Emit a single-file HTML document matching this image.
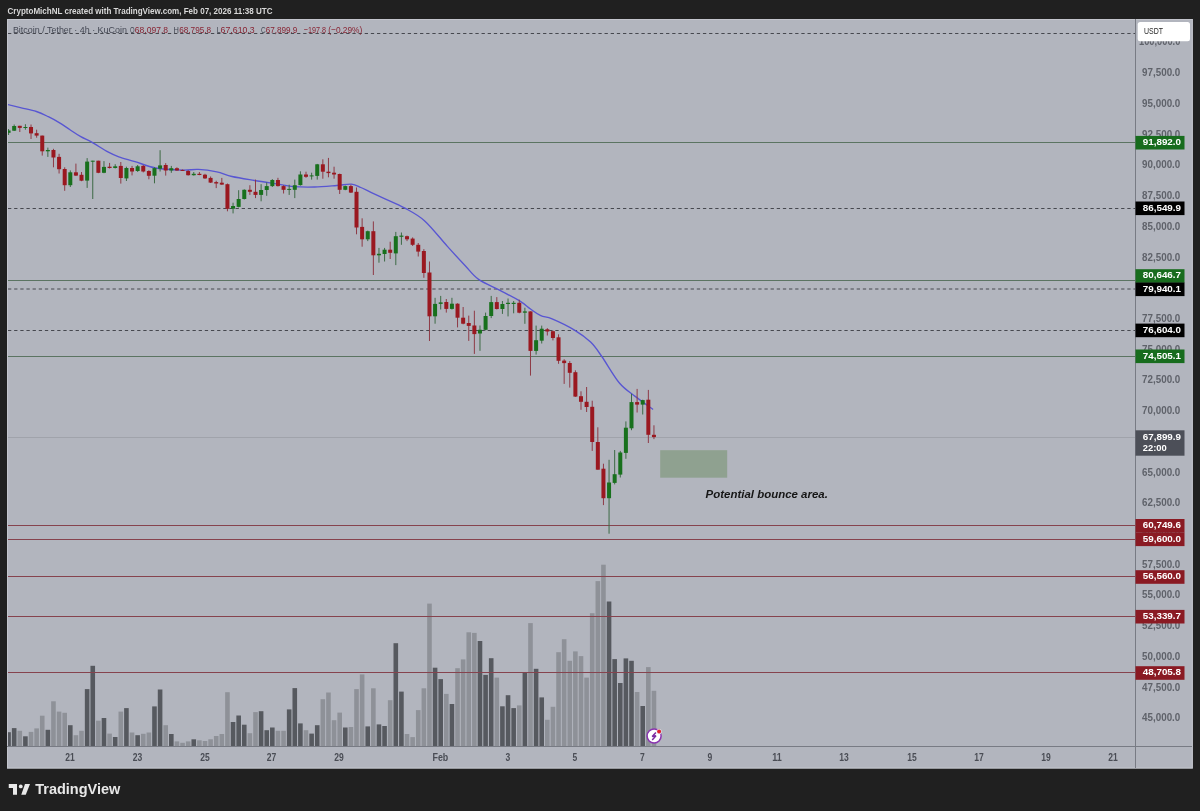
<!DOCTYPE html><html><head><meta charset="utf-8"><style>html,body{margin:0;padding:0;background:#202020;width:1200px;height:811px;overflow:hidden}svg{display:block;will-change:transform}text{font-family:"Liberation Sans",sans-serif}</style></head><body>
<svg width="1200" height="811" viewBox="0 0 1200 811">
<rect x="0" y="0" width="1200" height="811" fill="#202020"/>
<text x="7.5" y="14.3" font-size="9.8" font-weight="bold" fill="#d8d8d8" textLength="265" lengthAdjust="spacingAndGlyphs">CryptoMichNL created with TradingView.com, Feb 07, 2026 11:38 UTC</text>
<rect x="7" y="19" width="1185.8" height="749.5" fill="#b2b5be"/>
<rect x="7.5" y="19.5" width="1184.8" height="748.5" fill="none" stroke="#c3c5cc" stroke-width="1"/>
<defs><clipPath id="cp"><rect x="8" y="20" width="1127" height="726"/></clipPath></defs><g clip-path="url(#cp)">
<rect x="6.27" y="732.2" width="4.6" height="13.8" fill="#56595f"/>
<rect x="11.88" y="728.1" width="4.6" height="17.9" fill="#56595f"/>
<rect x="17.49" y="730.8" width="4.6" height="15.2" fill="#8e9198"/>
<rect x="23.10" y="736.3" width="4.6" height="9.7" fill="#56595f"/>
<rect x="28.72" y="731.9" width="4.6" height="14.1" fill="#8e9198"/>
<rect x="34.33" y="728.4" width="4.6" height="17.6" fill="#8e9198"/>
<rect x="39.94" y="715.7" width="4.6" height="30.3" fill="#8e9198"/>
<rect x="45.55" y="729.8" width="4.6" height="16.2" fill="#56595f"/>
<rect x="51.16" y="701.3" width="4.6" height="44.7" fill="#8e9198"/>
<rect x="56.78" y="711.6" width="4.6" height="34.4" fill="#8e9198"/>
<rect x="62.39" y="712.8" width="4.6" height="33.2" fill="#8e9198"/>
<rect x="68.00" y="725.2" width="4.6" height="20.8" fill="#56595f"/>
<rect x="73.61" y="735.2" width="4.6" height="10.8" fill="#8e9198"/>
<rect x="79.22" y="730.8" width="4.6" height="15.2" fill="#8e9198"/>
<rect x="84.84" y="689.1" width="4.6" height="56.9" fill="#56595f"/>
<rect x="90.45" y="665.8" width="4.6" height="80.2" fill="#56595f"/>
<rect x="96.06" y="720.7" width="4.6" height="25.3" fill="#8e9198"/>
<rect x="101.67" y="718.0" width="4.6" height="28.0" fill="#56595f"/>
<rect x="107.28" y="733.6" width="4.6" height="12.4" fill="#8e9198"/>
<rect x="112.90" y="737.0" width="4.6" height="9.0" fill="#56595f"/>
<rect x="118.51" y="711.6" width="4.6" height="34.4" fill="#8e9198"/>
<rect x="124.12" y="708.1" width="4.6" height="37.9" fill="#56595f"/>
<rect x="129.73" y="732.5" width="4.6" height="13.5" fill="#8e9198"/>
<rect x="135.34" y="735.2" width="4.6" height="10.8" fill="#56595f"/>
<rect x="140.96" y="733.8" width="4.6" height="12.2" fill="#8e9198"/>
<rect x="146.57" y="732.5" width="4.6" height="13.5" fill="#8e9198"/>
<rect x="152.18" y="706.4" width="4.6" height="39.6" fill="#56595f"/>
<rect x="157.79" y="689.5" width="4.6" height="56.5" fill="#56595f"/>
<rect x="163.40" y="725.2" width="4.6" height="20.8" fill="#8e9198"/>
<rect x="169.02" y="734.0" width="4.6" height="12.0" fill="#56595f"/>
<rect x="174.63" y="741.4" width="4.6" height="4.6" fill="#8e9198"/>
<rect x="180.24" y="742.8" width="4.6" height="3.2" fill="#8e9198"/>
<rect x="185.85" y="741.4" width="4.6" height="4.6" fill="#8e9198"/>
<rect x="191.46" y="739.3" width="4.6" height="6.7" fill="#56595f"/>
<rect x="197.08" y="740.3" width="4.6" height="5.7" fill="#8e9198"/>
<rect x="202.69" y="741.0" width="4.6" height="5.0" fill="#8e9198"/>
<rect x="208.30" y="739.3" width="4.6" height="6.7" fill="#8e9198"/>
<rect x="213.91" y="736.0" width="4.6" height="10.0" fill="#8e9198"/>
<rect x="219.52" y="734.0" width="4.6" height="12.0" fill="#8e9198"/>
<rect x="225.14" y="692.2" width="4.6" height="53.8" fill="#8e9198"/>
<rect x="230.75" y="722.0" width="4.6" height="24.0" fill="#56595f"/>
<rect x="236.36" y="715.5" width="4.6" height="30.5" fill="#56595f"/>
<rect x="241.97" y="724.7" width="4.6" height="21.3" fill="#56595f"/>
<rect x="247.58" y="733.2" width="4.6" height="12.8" fill="#8e9198"/>
<rect x="253.20" y="712.1" width="4.6" height="33.9" fill="#8e9198"/>
<rect x="258.81" y="711.2" width="4.6" height="34.8" fill="#56595f"/>
<rect x="264.42" y="730.2" width="4.6" height="15.8" fill="#56595f"/>
<rect x="270.03" y="727.5" width="4.6" height="18.5" fill="#56595f"/>
<rect x="275.64" y="730.8" width="4.6" height="15.2" fill="#8e9198"/>
<rect x="281.26" y="730.8" width="4.6" height="15.2" fill="#8e9198"/>
<rect x="286.87" y="709.4" width="4.6" height="36.6" fill="#56595f"/>
<rect x="292.48" y="688.1" width="4.6" height="57.9" fill="#56595f"/>
<rect x="298.09" y="723.4" width="4.6" height="22.6" fill="#56595f"/>
<rect x="303.70" y="730.2" width="4.6" height="15.8" fill="#8e9198"/>
<rect x="309.32" y="733.6" width="4.6" height="12.4" fill="#56595f"/>
<rect x="314.93" y="725.2" width="4.6" height="20.8" fill="#56595f"/>
<rect x="320.54" y="699.2" width="4.6" height="46.8" fill="#8e9198"/>
<rect x="326.15" y="692.5" width="4.6" height="53.5" fill="#8e9198"/>
<rect x="331.76" y="720.2" width="4.6" height="25.8" fill="#8e9198"/>
<rect x="337.38" y="712.6" width="4.6" height="33.4" fill="#8e9198"/>
<rect x="342.99" y="727.5" width="4.6" height="18.5" fill="#56595f"/>
<rect x="348.60" y="727.0" width="4.6" height="19.0" fill="#8e9198"/>
<rect x="354.21" y="689.1" width="4.6" height="56.9" fill="#8e9198"/>
<rect x="359.82" y="674.4" width="4.6" height="71.6" fill="#8e9198"/>
<rect x="365.44" y="726.4" width="4.6" height="19.6" fill="#56595f"/>
<rect x="371.05" y="688.3" width="4.6" height="57.7" fill="#8e9198"/>
<rect x="376.66" y="724.4" width="4.6" height="21.6" fill="#56595f"/>
<rect x="382.27" y="726.0" width="4.6" height="20.0" fill="#56595f"/>
<rect x="387.88" y="700.2" width="4.6" height="45.8" fill="#8e9198"/>
<rect x="393.50" y="643.2" width="4.6" height="102.8" fill="#56595f"/>
<rect x="399.11" y="691.6" width="4.6" height="54.4" fill="#56595f"/>
<rect x="404.72" y="734.0" width="4.6" height="12.0" fill="#8e9198"/>
<rect x="410.33" y="737.1" width="4.6" height="8.9" fill="#8e9198"/>
<rect x="415.94" y="710.1" width="4.6" height="35.9" fill="#8e9198"/>
<rect x="421.56" y="688.3" width="4.6" height="57.7" fill="#8e9198"/>
<rect x="427.17" y="603.6" width="4.6" height="142.4" fill="#8e9198"/>
<rect x="432.78" y="667.7" width="4.6" height="78.3" fill="#56595f"/>
<rect x="438.39" y="679.1" width="4.6" height="66.9" fill="#56595f"/>
<rect x="444.00" y="693.9" width="4.6" height="52.1" fill="#8e9198"/>
<rect x="449.62" y="704.0" width="4.6" height="42.0" fill="#56595f"/>
<rect x="455.23" y="668.2" width="4.6" height="77.8" fill="#8e9198"/>
<rect x="460.84" y="659.4" width="4.6" height="86.6" fill="#8e9198"/>
<rect x="466.45" y="632.3" width="4.6" height="113.7" fill="#8e9198"/>
<rect x="472.06" y="632.9" width="4.6" height="113.1" fill="#8e9198"/>
<rect x="477.68" y="641.0" width="4.6" height="105.0" fill="#56595f"/>
<rect x="483.29" y="674.9" width="4.6" height="71.1" fill="#56595f"/>
<rect x="488.90" y="658.2" width="4.6" height="87.8" fill="#56595f"/>
<rect x="494.51" y="677.6" width="4.6" height="68.4" fill="#8e9198"/>
<rect x="500.12" y="706.3" width="4.6" height="39.7" fill="#56595f"/>
<rect x="505.74" y="695.2" width="4.6" height="50.8" fill="#56595f"/>
<rect x="511.35" y="708.1" width="4.6" height="37.9" fill="#56595f"/>
<rect x="516.96" y="705.4" width="4.6" height="40.6" fill="#8e9198"/>
<rect x="522.57" y="672.1" width="4.6" height="73.9" fill="#56595f"/>
<rect x="528.18" y="623.1" width="4.6" height="122.9" fill="#8e9198"/>
<rect x="533.80" y="668.8" width="4.6" height="77.2" fill="#56595f"/>
<rect x="539.41" y="697.4" width="4.6" height="48.6" fill="#56595f"/>
<rect x="545.02" y="719.8" width="4.6" height="26.2" fill="#8e9198"/>
<rect x="550.63" y="706.8" width="4.6" height="39.2" fill="#8e9198"/>
<rect x="556.24" y="652.2" width="4.6" height="93.8" fill="#8e9198"/>
<rect x="561.86" y="639.2" width="4.6" height="106.8" fill="#8e9198"/>
<rect x="567.47" y="660.8" width="4.6" height="85.2" fill="#8e9198"/>
<rect x="573.08" y="651.4" width="4.6" height="94.6" fill="#8e9198"/>
<rect x="578.69" y="656.1" width="4.6" height="89.9" fill="#8e9198"/>
<rect x="584.30" y="677.6" width="4.6" height="68.4" fill="#8e9198"/>
<rect x="589.92" y="613.2" width="4.6" height="132.8" fill="#8e9198"/>
<rect x="595.53" y="581.1" width="4.6" height="164.9" fill="#8e9198"/>
<rect x="601.14" y="564.7" width="4.6" height="181.3" fill="#8e9198"/>
<rect x="606.75" y="601.5" width="4.6" height="144.5" fill="#56595f"/>
<rect x="612.36" y="659.1" width="4.6" height="86.9" fill="#56595f"/>
<rect x="617.98" y="683.0" width="4.6" height="63.0" fill="#56595f"/>
<rect x="623.59" y="658.4" width="4.6" height="87.6" fill="#56595f"/>
<rect x="629.20" y="660.8" width="4.6" height="85.2" fill="#56595f"/>
<rect x="634.81" y="692.0" width="4.6" height="54.0" fill="#8e9198"/>
<rect x="640.42" y="706.0" width="4.6" height="40.0" fill="#56595f"/>
<rect x="646.04" y="667.1" width="4.6" height="78.9" fill="#8e9198"/>
<rect x="651.65" y="690.8" width="4.6" height="55.2" fill="#8e9198"/>
<line x1="8" y1="33.5" x2="1135.5" y2="33.5" stroke="#46484f" stroke-width="1" stroke-dasharray="3.3 2.85"/>
<line x1="8" y1="142.5" x2="1135.5" y2="142.5" stroke="#5b7462" stroke-width="1"/>
<line x1="8" y1="280.5" x2="1135.5" y2="280.5" stroke="#5b7462" stroke-width="1"/>
<line x1="8" y1="356.5" x2="1135.5" y2="356.5" stroke="#5b7462" stroke-width="1"/>
<line x1="8" y1="208.5" x2="1135.5" y2="208.5" stroke="#46484f" stroke-width="1" stroke-dasharray="3.3 2.85"/>
<line x1="8" y1="289.0" x2="1135.5" y2="289.0" stroke="#46484f" stroke-width="1" stroke-dasharray="3.3 2.85"/>
<line x1="8" y1="330.5" x2="1135.5" y2="330.5" stroke="#46484f" stroke-width="1" stroke-dasharray="3.3 2.85"/>
<line x1="8" y1="525.5" x2="1135.5" y2="525.5" stroke="#86434e" stroke-width="1"/>
<line x1="8" y1="539.5" x2="1135.5" y2="539.5" stroke="#86434e" stroke-width="1"/>
<line x1="8" y1="576.5" x2="1135.5" y2="576.5" stroke="#86434e" stroke-width="1"/>
<line x1="8" y1="616.5" x2="1135.5" y2="616.5" stroke="#86434e" stroke-width="1"/>
<line x1="8" y1="672.5" x2="1135.5" y2="672.5" stroke="#86434e" stroke-width="1"/>
<line x1="8" y1="437.5" x2="1135.5" y2="437.5" stroke="#a0a3ab" stroke-width="1"/>
<path d="M7,104.4 C9.38,104.97 16.40,106.62 21.3,107.8 C26.20,108.98 31.90,110.02 36.4,111.5 C40.90,112.98 44.50,114.85 48.3,116.7 C52.10,118.55 55.58,120.43 59.2,122.6 C62.82,124.77 66.40,127.35 70,129.7 C73.60,132.05 77.18,134.63 80.8,136.7 C84.42,138.77 87.18,139.57 91.7,142.1 C96.22,144.63 103.38,149.45 107.9,151.9 C112.42,154.35 114.28,155.18 118.8,156.8 C123.32,158.42 128.85,159.73 135,161.6 C141.15,163.47 147.78,166.58 155.7,168 C163.62,169.42 175.40,169.87 182.5,170.1 C189.60,170.33 192.58,169.10 198.3,169.4 C204.02,169.70 211.18,170.72 216.8,171.9 C222.42,173.08 225.72,175.07 232,176.5 C238.28,177.93 246.58,179.18 254.5,180.5 C262.42,181.82 273.02,183.38 279.5,184.4 C285.98,185.42 287.57,186.17 293.4,186.6 C299.23,187.03 307.28,187.18 314.5,187 C321.72,186.82 330.53,185.97 336.7,185.5 C342.87,185.03 347.48,183.87 351.5,184.2 C355.52,184.53 357.57,186.15 360.8,187.5 C364.03,188.85 366.87,190.42 370.9,192.3 C374.93,194.18 379.33,196.17 385,198.8 C390.67,201.43 398.28,204.42 404.9,208.1 C411.52,211.78 417.62,214.52 424.7,220.9 C431.78,227.28 440.68,238.97 447.4,246.4 C454.12,253.83 459.80,260.00 465,265.5 C470.20,271.00 472.77,275.25 478.6,279.4 C484.43,283.55 493.10,286.77 500,290.4 C506.90,294.03 514.92,298.10 520,301.2 C525.08,304.30 527.03,306.58 530.5,309 C533.97,311.42 537.20,314.05 540.8,315.7 C544.40,317.35 546.48,316.50 552.1,318.9 C557.72,321.30 568.08,326.23 574.5,330.1 C580.92,333.97 586.05,337.70 590.6,342.1 C595.15,346.50 597.00,349.68 601.8,356.5 C606.60,363.32 613.78,376.32 619.4,383 C625.02,389.68 629.88,392.18 635.5,396.6 C641.12,401.02 650.17,407.35 653.1,409.5" fill="none" stroke="#5856d2" stroke-width="1.35"/>
<rect x="8.07" y="129.0" width="1" height="6.0" fill="#3d6a45"/>
<rect x="6.57" y="130.5" width="4" height="2.3" fill="#18701d"/>
<rect x="13.68" y="124.5" width="1" height="6.5" fill="#3d6a45"/>
<rect x="12.18" y="126.0" width="4" height="4.7" fill="#18701d"/>
<rect x="19.29" y="125.8" width="1" height="6.2" fill="#8e3a46"/>
<rect x="17.79" y="125.8" width="4" height="2.1" fill="#9a1820"/>
<rect x="24.90" y="124.2" width="1" height="5.5" fill="#3d6a45"/>
<rect x="23.40" y="127.0" width="4" height="1.0" fill="#18701d"/>
<rect x="30.52" y="124.5" width="1" height="14.5" fill="#8e3a46"/>
<rect x="29.02" y="127.0" width="4" height="6.4" fill="#9a1820"/>
<rect x="36.13" y="129.7" width="1" height="8.0" fill="#8e3a46"/>
<rect x="34.63" y="133.2" width="4" height="2.4" fill="#9a1820"/>
<rect x="41.74" y="135.6" width="1" height="20.0" fill="#8e3a46"/>
<rect x="40.24" y="135.6" width="4" height="15.7" fill="#9a1820"/>
<rect x="47.35" y="147.6" width="1" height="9.3" fill="#3d6a45"/>
<rect x="45.85" y="150.0" width="4" height="1.3" fill="#18701d"/>
<rect x="52.96" y="148.8" width="1" height="18.5" fill="#8e3a46"/>
<rect x="51.46" y="150.0" width="4" height="7.5" fill="#9a1820"/>
<rect x="58.58" y="153.8" width="1" height="19.7" fill="#8e3a46"/>
<rect x="57.08" y="156.9" width="4" height="12.3" fill="#9a1820"/>
<rect x="64.19" y="167.3" width="1" height="23.5" fill="#8e3a46"/>
<rect x="62.69" y="169.0" width="4" height="16.2" fill="#9a1820"/>
<rect x="69.80" y="170.4" width="1" height="16.6" fill="#3d6a45"/>
<rect x="68.30" y="172.3" width="4" height="12.9" fill="#18701d"/>
<rect x="75.41" y="163.6" width="1" height="12.4" fill="#8e3a46"/>
<rect x="73.91" y="172.3" width="4" height="3.3" fill="#9a1820"/>
<rect x="81.02" y="172.0" width="1" height="9.2" fill="#8e3a46"/>
<rect x="79.52" y="174.8" width="4" height="5.9" fill="#9a1820"/>
<rect x="86.64" y="158.1" width="1" height="29.8" fill="#3d6a45"/>
<rect x="85.14" y="161.6" width="4" height="19.0" fill="#18701d"/>
<rect x="92.25" y="160.7" width="1" height="38.3" fill="#3d6a45"/>
<rect x="90.75" y="160.7" width="4" height="1.0" fill="#18701d"/>
<rect x="97.86" y="160.7" width="1" height="12.5" fill="#8e3a46"/>
<rect x="96.36" y="160.7" width="4" height="12.1" fill="#9a1820"/>
<rect x="103.47" y="161.1" width="1" height="12.1" fill="#3d6a45"/>
<rect x="101.97" y="166.9" width="4" height="5.9" fill="#18701d"/>
<rect x="109.08" y="162.9" width="1" height="5.6" fill="#8e3a46"/>
<rect x="107.58" y="166.7" width="4" height="1.3" fill="#9a1820"/>
<rect x="114.70" y="164.2" width="1" height="4.3" fill="#3d6a45"/>
<rect x="113.20" y="166.3" width="4" height="1.7" fill="#18701d"/>
<rect x="120.31" y="162.0" width="1" height="21.6" fill="#8e3a46"/>
<rect x="118.81" y="165.9" width="4" height="12.1" fill="#9a1820"/>
<rect x="125.92" y="166.7" width="1" height="14.3" fill="#3d6a45"/>
<rect x="124.42" y="168.0" width="4" height="10.4" fill="#18701d"/>
<rect x="131.53" y="165.9" width="1" height="9.5" fill="#8e3a46"/>
<rect x="130.03" y="168.0" width="4" height="3.5" fill="#9a1820"/>
<rect x="137.14" y="165.0" width="1" height="6.9" fill="#3d6a45"/>
<rect x="135.64" y="166.3" width="4" height="4.7" fill="#18701d"/>
<rect x="142.76" y="165.0" width="1" height="7.4" fill="#8e3a46"/>
<rect x="141.26" y="165.9" width="4" height="5.6" fill="#9a1820"/>
<rect x="148.37" y="170.2" width="1" height="9.1" fill="#8e3a46"/>
<rect x="146.87" y="171.0" width="4" height="4.8" fill="#9a1820"/>
<rect x="153.98" y="167.2" width="1" height="16.1" fill="#3d6a45"/>
<rect x="152.48" y="168.1" width="4" height="7.6" fill="#18701d"/>
<rect x="159.59" y="150.2" width="1" height="21.3" fill="#3d6a45"/>
<rect x="158.09" y="165.4" width="4" height="3.3" fill="#18701d"/>
<rect x="165.20" y="163.1" width="1" height="12.5" fill="#8e3a46"/>
<rect x="163.70" y="165.0" width="4" height="5.5" fill="#9a1820"/>
<rect x="170.82" y="165.9" width="1" height="6.9" fill="#3d6a45"/>
<rect x="169.32" y="168.2" width="4" height="2.3" fill="#18701d"/>
<rect x="176.43" y="167.3" width="1" height="3.6" fill="#8e3a46"/>
<rect x="174.93" y="168.2" width="4" height="2.3" fill="#9a1820"/>
<rect x="182.04" y="169.5" width="1" height="1.5" fill="#8e3a46"/>
<rect x="180.54" y="169.9" width="4" height="1.0" fill="#9a1820"/>
<rect x="187.65" y="170.0" width="1" height="5.6" fill="#8e3a46"/>
<rect x="186.15" y="171.0" width="4" height="4.2" fill="#9a1820"/>
<rect x="193.26" y="172.0" width="1" height="3.6" fill="#3d6a45"/>
<rect x="191.76" y="173.8" width="4" height="1.4" fill="#18701d"/>
<rect x="198.88" y="172.0" width="1" height="3.2" fill="#8e3a46"/>
<rect x="197.38" y="173.8" width="4" height="1.2" fill="#9a1820"/>
<rect x="204.49" y="173.8" width="1" height="5.1" fill="#8e3a46"/>
<rect x="202.99" y="174.7" width="4" height="3.7" fill="#9a1820"/>
<rect x="210.10" y="176.5" width="1" height="6.5" fill="#8e3a46"/>
<rect x="208.60" y="177.9" width="4" height="4.7" fill="#9a1820"/>
<rect x="215.71" y="180.7" width="1" height="7.4" fill="#8e3a46"/>
<rect x="214.21" y="182.1" width="4" height="1.4" fill="#9a1820"/>
<rect x="221.32" y="177.9" width="1" height="7.0" fill="#8e3a46"/>
<rect x="219.82" y="182.7" width="4" height="1.9" fill="#9a1820"/>
<rect x="226.94" y="183.5" width="1" height="27.8" fill="#8e3a46"/>
<rect x="225.44" y="184.2" width="4" height="24.6" fill="#9a1820"/>
<rect x="232.55" y="202.7" width="1" height="10.7" fill="#3d6a45"/>
<rect x="231.05" y="206.0" width="4" height="2.7" fill="#18701d"/>
<rect x="238.16" y="190.2" width="1" height="17.2" fill="#3d6a45"/>
<rect x="236.66" y="199.0" width="4" height="7.9" fill="#18701d"/>
<rect x="243.77" y="189.3" width="1" height="10.2" fill="#3d6a45"/>
<rect x="242.27" y="189.8" width="4" height="9.2" fill="#18701d"/>
<rect x="249.38" y="185.2" width="1" height="9.7" fill="#8e3a46"/>
<rect x="247.88" y="189.8" width="4" height="2.0" fill="#9a1820"/>
<rect x="255.00" y="179.6" width="1" height="18.5" fill="#8e3a46"/>
<rect x="253.50" y="191.8" width="4" height="3.1" fill="#9a1820"/>
<rect x="260.61" y="184.2" width="1" height="17.1" fill="#3d6a45"/>
<rect x="259.11" y="190.0" width="4" height="4.9" fill="#18701d"/>
<rect x="266.22" y="182.4" width="1" height="13.4" fill="#3d6a45"/>
<rect x="264.72" y="186.1" width="4" height="3.9" fill="#18701d"/>
<rect x="271.83" y="179.1" width="1" height="7.9" fill="#3d6a45"/>
<rect x="270.33" y="180.0" width="4" height="6.1" fill="#18701d"/>
<rect x="277.44" y="177.8" width="1" height="8.7" fill="#8e3a46"/>
<rect x="275.94" y="180.0" width="4" height="6.1" fill="#9a1820"/>
<rect x="283.06" y="185.2" width="1" height="8.3" fill="#8e3a46"/>
<rect x="281.56" y="186.1" width="4" height="3.7" fill="#9a1820"/>
<rect x="288.67" y="184.7" width="1" height="10.2" fill="#3d6a45"/>
<rect x="287.17" y="188.9" width="4" height="1.0" fill="#18701d"/>
<rect x="294.28" y="179.6" width="1" height="18.5" fill="#3d6a45"/>
<rect x="292.78" y="185.2" width="4" height="4.6" fill="#18701d"/>
<rect x="299.89" y="171.3" width="1" height="14.3" fill="#3d6a45"/>
<rect x="298.39" y="174.5" width="4" height="10.6" fill="#18701d"/>
<rect x="305.50" y="171.7" width="1" height="6.1" fill="#8e3a46"/>
<rect x="304.00" y="174.5" width="4" height="2.3" fill="#9a1820"/>
<rect x="311.12" y="172.7" width="1" height="6.9" fill="#3d6a45"/>
<rect x="309.62" y="175.4" width="4" height="1.0" fill="#18701d"/>
<rect x="316.73" y="163.9" width="1" height="15.7" fill="#3d6a45"/>
<rect x="315.23" y="164.3" width="4" height="11.6" fill="#18701d"/>
<rect x="322.34" y="159.3" width="1" height="19.4" fill="#8e3a46"/>
<rect x="320.84" y="164.3" width="4" height="7.4" fill="#9a1820"/>
<rect x="327.95" y="157.9" width="1" height="19.4" fill="#8e3a46"/>
<rect x="326.45" y="171.7" width="4" height="1.4" fill="#9a1820"/>
<rect x="333.56" y="166.7" width="1" height="12.0" fill="#8e3a46"/>
<rect x="332.06" y="172.7" width="4" height="1.8" fill="#9a1820"/>
<rect x="339.18" y="173.6" width="1" height="20.4" fill="#8e3a46"/>
<rect x="337.68" y="174.0" width="4" height="15.8" fill="#9a1820"/>
<rect x="344.79" y="185.6" width="1" height="4.6" fill="#3d6a45"/>
<rect x="343.29" y="186.1" width="4" height="3.7" fill="#18701d"/>
<rect x="350.40" y="184.7" width="1" height="8.3" fill="#8e3a46"/>
<rect x="348.90" y="186.1" width="4" height="6.5" fill="#9a1820"/>
<rect x="356.01" y="187.5" width="1" height="46.8" fill="#8e3a46"/>
<rect x="354.51" y="191.8" width="4" height="35.7" fill="#9a1820"/>
<rect x="361.62" y="218.3" width="1" height="28.4" fill="#8e3a46"/>
<rect x="360.12" y="226.9" width="4" height="12.4" fill="#9a1820"/>
<rect x="367.24" y="230.6" width="1" height="10.5" fill="#3d6a45"/>
<rect x="365.74" y="231.2" width="4" height="8.1" fill="#18701d"/>
<rect x="372.85" y="221.4" width="1" height="53.6" fill="#8e3a46"/>
<rect x="371.35" y="231.2" width="4" height="24.1" fill="#9a1820"/>
<rect x="378.46" y="247.9" width="1" height="14.8" fill="#3d6a45"/>
<rect x="376.96" y="253.8" width="4" height="1.5" fill="#18701d"/>
<rect x="384.07" y="247.9" width="1" height="13.6" fill="#3d6a45"/>
<rect x="382.57" y="249.7" width="4" height="4.3" fill="#18701d"/>
<rect x="389.68" y="241.7" width="1" height="17.3" fill="#8e3a46"/>
<rect x="388.18" y="249.7" width="4" height="3.1" fill="#9a1820"/>
<rect x="395.30" y="231.9" width="1" height="33.2" fill="#3d6a45"/>
<rect x="393.80" y="236.2" width="4" height="17.2" fill="#18701d"/>
<rect x="400.91" y="232.5" width="1" height="12.3" fill="#3d6a45"/>
<rect x="399.41" y="235.6" width="4" height="1.2" fill="#18701d"/>
<rect x="406.52" y="235.6" width="1" height="5.5" fill="#8e3a46"/>
<rect x="405.02" y="236.2" width="4" height="3.1" fill="#9a1820"/>
<rect x="412.13" y="237.4" width="1" height="8.6" fill="#8e3a46"/>
<rect x="410.63" y="238.6" width="4" height="6.2" fill="#9a1820"/>
<rect x="417.74" y="243.0" width="1" height="13.5" fill="#8e3a46"/>
<rect x="416.24" y="244.8" width="4" height="6.8" fill="#9a1820"/>
<rect x="423.36" y="249.1" width="1" height="28.7" fill="#8e3a46"/>
<rect x="421.86" y="251.0" width="4" height="22.0" fill="#9a1820"/>
<rect x="428.97" y="261.5" width="1" height="79.5" fill="#8e3a46"/>
<rect x="427.47" y="272.5" width="4" height="43.8" fill="#9a1820"/>
<rect x="434.58" y="297.8" width="1" height="25.9" fill="#3d6a45"/>
<rect x="433.08" y="303.9" width="4" height="12.4" fill="#18701d"/>
<rect x="440.19" y="295.9" width="1" height="13.6" fill="#3d6a45"/>
<rect x="438.69" y="302.4" width="4" height="1.5" fill="#18701d"/>
<rect x="445.80" y="299.0" width="1" height="13.6" fill="#8e3a46"/>
<rect x="444.30" y="302.0" width="4" height="6.9" fill="#9a1820"/>
<rect x="451.42" y="297.8" width="1" height="11.7" fill="#3d6a45"/>
<rect x="449.92" y="303.7" width="4" height="5.2" fill="#18701d"/>
<rect x="457.03" y="303.3" width="1" height="24.1" fill="#8e3a46"/>
<rect x="455.53" y="303.7" width="4" height="14.0" fill="#9a1820"/>
<rect x="462.64" y="307.0" width="1" height="17.3" fill="#8e3a46"/>
<rect x="461.14" y="317.7" width="4" height="6.0" fill="#9a1820"/>
<rect x="468.25" y="315.6" width="1" height="25.3" fill="#8e3a46"/>
<rect x="466.75" y="323.0" width="4" height="2.9" fill="#9a1820"/>
<rect x="473.86" y="310.7" width="1" height="43.2" fill="#8e3a46"/>
<rect x="472.36" y="325.5" width="4" height="8.6" fill="#9a1820"/>
<rect x="479.48" y="325.5" width="1" height="25.3" fill="#3d6a45"/>
<rect x="477.98" y="329.8" width="4" height="3.7" fill="#18701d"/>
<rect x="485.09" y="312.6" width="1" height="17.8" fill="#3d6a45"/>
<rect x="483.59" y="316.0" width="4" height="13.8" fill="#18701d"/>
<rect x="490.70" y="295.9" width="1" height="22.2" fill="#3d6a45"/>
<rect x="489.20" y="302.1" width="4" height="13.9" fill="#18701d"/>
<rect x="496.31" y="297.1" width="1" height="12.4" fill="#8e3a46"/>
<rect x="494.81" y="302.1" width="4" height="6.9" fill="#9a1820"/>
<rect x="501.92" y="301.0" width="1" height="12.9" fill="#3d6a45"/>
<rect x="500.42" y="304.0" width="4" height="5.0" fill="#18701d"/>
<rect x="507.54" y="298.5" width="1" height="17.9" fill="#3d6a45"/>
<rect x="506.04" y="302.8" width="4" height="1.2" fill="#18701d"/>
<rect x="513.15" y="301.0" width="1" height="12.3" fill="#3d6a45"/>
<rect x="511.65" y="302.8" width="4" height="1.2" fill="#18701d"/>
<rect x="518.76" y="299.7" width="1" height="13.6" fill="#8e3a46"/>
<rect x="517.26" y="302.8" width="4" height="9.9" fill="#9a1820"/>
<rect x="524.37" y="307.7" width="1" height="16.1" fill="#3d6a45"/>
<rect x="522.87" y="311.4" width="4" height="1.3" fill="#18701d"/>
<rect x="529.98" y="311.4" width="1" height="64.2" fill="#8e3a46"/>
<rect x="528.48" y="311.4" width="4" height="39.5" fill="#9a1820"/>
<rect x="535.60" y="325.6" width="1" height="29.0" fill="#3d6a45"/>
<rect x="534.10" y="340.2" width="4" height="10.7" fill="#18701d"/>
<rect x="541.21" y="325.6" width="1" height="17.9" fill="#3d6a45"/>
<rect x="539.71" y="328.7" width="4" height="12.0" fill="#18701d"/>
<rect x="546.82" y="328.1" width="1" height="7.4" fill="#8e3a46"/>
<rect x="545.32" y="329.3" width="4" height="2.2" fill="#9a1820"/>
<rect x="552.43" y="330.6" width="1" height="9.8" fill="#8e3a46"/>
<rect x="550.93" y="331.2" width="4" height="6.8" fill="#9a1820"/>
<rect x="558.04" y="334.3" width="1" height="29.5" fill="#8e3a46"/>
<rect x="556.54" y="337.3" width="4" height="23.5" fill="#9a1820"/>
<rect x="563.66" y="359.2" width="1" height="24.7" fill="#8e3a46"/>
<rect x="562.16" y="360.6" width="4" height="2.5" fill="#9a1820"/>
<rect x="569.27" y="361.1" width="1" height="26.5" fill="#8e3a46"/>
<rect x="567.77" y="363.0" width="4" height="9.8" fill="#9a1820"/>
<rect x="574.88" y="370.3" width="1" height="26.6" fill="#8e3a46"/>
<rect x="573.38" y="372.2" width="4" height="24.4" fill="#9a1820"/>
<rect x="580.49" y="391.3" width="1" height="18.5" fill="#8e3a46"/>
<rect x="578.99" y="396.2" width="4" height="5.6" fill="#9a1820"/>
<rect x="586.10" y="387.0" width="1" height="25.0" fill="#8e3a46"/>
<rect x="584.60" y="401.8" width="4" height="5.2" fill="#9a1820"/>
<rect x="591.72" y="400.7" width="1" height="50.2" fill="#8e3a46"/>
<rect x="590.22" y="406.8" width="4" height="35.2" fill="#9a1820"/>
<rect x="597.33" y="427.3" width="1" height="42.4" fill="#8e3a46"/>
<rect x="595.83" y="442.0" width="4" height="27.7" fill="#9a1820"/>
<rect x="602.94" y="463.7" width="1" height="41.4" fill="#8e3a46"/>
<rect x="601.44" y="468.7" width="4" height="29.5" fill="#9a1820"/>
<rect x="608.55" y="459.8" width="1" height="73.9" fill="#3d6a45"/>
<rect x="607.05" y="482.5" width="4" height="15.7" fill="#18701d"/>
<rect x="614.16" y="450.0" width="1" height="34.4" fill="#3d6a45"/>
<rect x="612.66" y="474.2" width="4" height="8.7" fill="#18701d"/>
<rect x="619.78" y="450.9" width="1" height="26.6" fill="#3d6a45"/>
<rect x="618.28" y="452.5" width="4" height="22.1" fill="#18701d"/>
<rect x="625.39" y="421.4" width="1" height="37.4" fill="#3d6a45"/>
<rect x="623.89" y="427.7" width="4" height="25.2" fill="#18701d"/>
<rect x="631.00" y="393.8" width="1" height="36.4" fill="#3d6a45"/>
<rect x="629.50" y="402.1" width="4" height="26.2" fill="#18701d"/>
<rect x="636.61" y="388.9" width="1" height="23.6" fill="#8e3a46"/>
<rect x="635.11" y="402.1" width="4" height="2.5" fill="#9a1820"/>
<rect x="642.22" y="399.7" width="1" height="14.8" fill="#3d6a45"/>
<rect x="640.72" y="400.1" width="4" height="4.5" fill="#18701d"/>
<rect x="647.84" y="389.9" width="1" height="53.1" fill="#8e3a46"/>
<rect x="646.34" y="399.7" width="4" height="35.1" fill="#9a1820"/>
<rect x="653.45" y="425.3" width="1" height="13.8" fill="#8e3a46"/>
<rect x="651.95" y="434.8" width="4" height="2.3" fill="#9a1820"/>
</g>
<rect x="660.2" y="450.2" width="67" height="27.5" fill="#8fa190"/>
<text x="705.6" y="497.5" font-size="11.6" font-weight="bold" font-style="italic" fill="#161616" textLength="122.3" lengthAdjust="spacingAndGlyphs">Potential bounce area.</text>
<rect x="1135" y="19" width="1" height="749" fill="#787b84"/>
<rect x="7" y="746" width="1185" height="1" fill="#787b84"/>
<text x="1142.1" y="721.3" font-size="10" font-weight="bold" fill="#5f626a" textLength="38.2" lengthAdjust="spacingAndGlyphs">45,000.0</text>
<text x="1142.1" y="690.6" font-size="10" font-weight="bold" fill="#5f626a" textLength="38.2" lengthAdjust="spacingAndGlyphs">47,500.0</text>
<text x="1142.1" y="659.9" font-size="10" font-weight="bold" fill="#5f626a" textLength="38.2" lengthAdjust="spacingAndGlyphs">50,000.0</text>
<text x="1142.1" y="629.2" font-size="10" font-weight="bold" fill="#5f626a" textLength="38.2" lengthAdjust="spacingAndGlyphs">52,500.0</text>
<text x="1142.1" y="598.4" font-size="10" font-weight="bold" fill="#5f626a" textLength="38.2" lengthAdjust="spacingAndGlyphs">55,000.0</text>
<text x="1142.1" y="567.7" font-size="10" font-weight="bold" fill="#5f626a" textLength="38.2" lengthAdjust="spacingAndGlyphs">57,500.0</text>
<text x="1142.1" y="537.0" font-size="10" font-weight="bold" fill="#5f626a" textLength="38.2" lengthAdjust="spacingAndGlyphs">60,000.0</text>
<text x="1142.1" y="506.3" font-size="10" font-weight="bold" fill="#5f626a" textLength="38.2" lengthAdjust="spacingAndGlyphs">62,500.0</text>
<text x="1142.1" y="475.5" font-size="10" font-weight="bold" fill="#5f626a" textLength="38.2" lengthAdjust="spacingAndGlyphs">65,000.0</text>
<text x="1142.1" y="444.8" font-size="10" font-weight="bold" fill="#5f626a" textLength="38.2" lengthAdjust="spacingAndGlyphs">67,500.0</text>
<text x="1142.1" y="414.1" font-size="10" font-weight="bold" fill="#5f626a" textLength="38.2" lengthAdjust="spacingAndGlyphs">70,000.0</text>
<text x="1142.1" y="383.4" font-size="10" font-weight="bold" fill="#5f626a" textLength="38.2" lengthAdjust="spacingAndGlyphs">72,500.0</text>
<text x="1142.1" y="352.6" font-size="10" font-weight="bold" fill="#5f626a" textLength="38.2" lengthAdjust="spacingAndGlyphs">75,000.0</text>
<text x="1142.1" y="321.9" font-size="10" font-weight="bold" fill="#5f626a" textLength="38.2" lengthAdjust="spacingAndGlyphs">77,500.0</text>
<text x="1142.1" y="291.2" font-size="10" font-weight="bold" fill="#5f626a" textLength="38.2" lengthAdjust="spacingAndGlyphs">80,000.0</text>
<text x="1142.1" y="260.5" font-size="10" font-weight="bold" fill="#5f626a" textLength="38.2" lengthAdjust="spacingAndGlyphs">82,500.0</text>
<text x="1142.1" y="229.7" font-size="10" font-weight="bold" fill="#5f626a" textLength="38.2" lengthAdjust="spacingAndGlyphs">85,000.0</text>
<text x="1142.1" y="199.0" font-size="10" font-weight="bold" fill="#5f626a" textLength="38.2" lengthAdjust="spacingAndGlyphs">87,500.0</text>
<text x="1142.1" y="168.3" font-size="10" font-weight="bold" fill="#5f626a" textLength="38.2" lengthAdjust="spacingAndGlyphs">90,000.0</text>
<text x="1142.1" y="137.5" font-size="10" font-weight="bold" fill="#5f626a" textLength="38.2" lengthAdjust="spacingAndGlyphs">92,500.0</text>
<text x="1142.1" y="106.8" font-size="10" font-weight="bold" fill="#5f626a" textLength="38.2" lengthAdjust="spacingAndGlyphs">95,000.0</text>
<text x="1142.1" y="76.1" font-size="10" font-weight="bold" fill="#5f626a" textLength="38.2" lengthAdjust="spacingAndGlyphs">97,500.0</text>
<text x="1139.0" y="45.4" font-size="10" font-weight="bold" fill="#5f626a" textLength="41.3" lengthAdjust="spacingAndGlyphs">100,000.0</text>
<rect x="1135.5" y="135.9" width="49" height="13.6" fill="#176c1d"/>
<text x="1142.8" y="145.1" font-size="9.6" font-weight="bold" fill="#ffffff" textLength="38.2" lengthAdjust="spacingAndGlyphs">91,892.0</text>
<rect x="1135.5" y="201.5" width="49" height="13.6" fill="#000000"/>
<text x="1142.8" y="210.7" font-size="9.6" font-weight="bold" fill="#ffffff" textLength="38.2" lengthAdjust="spacingAndGlyphs">86,549.9</text>
<rect x="1135.5" y="269.2" width="49" height="13.6" fill="#176c1d"/>
<text x="1142.8" y="278.4" font-size="9.6" font-weight="bold" fill="#ffffff" textLength="38.2" lengthAdjust="spacingAndGlyphs">80,646.7</text>
<rect x="1135.5" y="282.5" width="49" height="13.6" fill="#000000"/>
<text x="1142.8" y="291.7" font-size="9.6" font-weight="bold" fill="#ffffff" textLength="38.2" lengthAdjust="spacingAndGlyphs">79,940.1</text>
<rect x="1135.5" y="323.6" width="49" height="13.6" fill="#000000"/>
<text x="1142.8" y="332.8" font-size="9.6" font-weight="bold" fill="#ffffff" textLength="38.2" lengthAdjust="spacingAndGlyphs">76,604.0</text>
<rect x="1135.5" y="349.5" width="49" height="13.6" fill="#176c1d"/>
<text x="1142.8" y="358.7" font-size="9.6" font-weight="bold" fill="#ffffff" textLength="38.2" lengthAdjust="spacingAndGlyphs">74,505.1</text>
<rect x="1135.5" y="519.0" width="49" height="13.6" fill="#8a1a23"/>
<text x="1142.8" y="528.2" font-size="9.6" font-weight="bold" fill="#ffffff" textLength="38.2" lengthAdjust="spacingAndGlyphs">60,749.6</text>
<rect x="1135.5" y="532.5" width="49" height="13.6" fill="#8a1a23"/>
<text x="1142.8" y="541.7" font-size="9.6" font-weight="bold" fill="#ffffff" textLength="38.2" lengthAdjust="spacingAndGlyphs">59,600.0</text>
<rect x="1135.5" y="570.2" width="49" height="13.6" fill="#8a1a23"/>
<text x="1142.8" y="579.4" font-size="9.6" font-weight="bold" fill="#ffffff" textLength="38.2" lengthAdjust="spacingAndGlyphs">56,560.0</text>
<rect x="1135.5" y="609.9" width="49" height="13.6" fill="#8a1a23"/>
<text x="1142.8" y="619.1" font-size="9.6" font-weight="bold" fill="#ffffff" textLength="38.2" lengthAdjust="spacingAndGlyphs">53,339.7</text>
<rect x="1135.5" y="666.2" width="49" height="13.6" fill="#8a1a23"/>
<text x="1142.8" y="675.4" font-size="9.6" font-weight="bold" fill="#ffffff" textLength="38.2" lengthAdjust="spacingAndGlyphs">48,705.8</text>
<rect x="1135.5" y="430.3" width="49" height="25.4" fill="#4c4f58"/>
<text x="1142.8" y="440" font-size="9.2" font-weight="bold" fill="#ffffff" textLength="38.2" lengthAdjust="spacingAndGlyphs">67,899.9</text>
<text x="1142.8" y="451.2" font-size="9.2" font-weight="bold" fill="#ffffff" textLength="24" lengthAdjust="spacingAndGlyphs">22:00</text>
<rect x="1137.7" y="22" width="52.3" height="19.3" rx="2.5" fill="#ffffff"/>
<text x="1144" y="34.3" font-size="9" fill="#2a2a2a" textLength="19" lengthAdjust="spacingAndGlyphs">USDT</text>
<text x="65.2" y="760.8" font-size="10.6" font-weight="bold" fill="#4a4d55" textLength="9.5" lengthAdjust="spacingAndGlyphs">21</text>
<text x="132.8" y="760.8" font-size="10.6" font-weight="bold" fill="#4a4d55" textLength="9.5" lengthAdjust="spacingAndGlyphs">23</text>
<text x="200.2" y="760.8" font-size="10.6" font-weight="bold" fill="#4a4d55" textLength="9.5" lengthAdjust="spacingAndGlyphs">25</text>
<text x="266.8" y="760.8" font-size="10.6" font-weight="bold" fill="#4a4d55" textLength="9.5" lengthAdjust="spacingAndGlyphs">27</text>
<text x="334.2" y="760.8" font-size="10.6" font-weight="bold" fill="#4a4d55" textLength="9.5" lengthAdjust="spacingAndGlyphs">29</text>
<text x="432.5" y="760.8" font-size="10.6" font-weight="bold" fill="#4a4d55" textLength="15.8" lengthAdjust="spacingAndGlyphs">Feb</text>
<text x="505.5" y="760.8" font-size="10.6" font-weight="bold" fill="#4a4d55" textLength="4.75" lengthAdjust="spacingAndGlyphs">3</text>
<text x="572.6" y="760.8" font-size="10.6" font-weight="bold" fill="#4a4d55" textLength="4.75" lengthAdjust="spacingAndGlyphs">5</text>
<text x="640.1" y="760.8" font-size="10.6" font-weight="bold" fill="#4a4d55" textLength="4.75" lengthAdjust="spacingAndGlyphs">7</text>
<text x="707.6" y="760.8" font-size="10.6" font-weight="bold" fill="#4a4d55" textLength="4.75" lengthAdjust="spacingAndGlyphs">9</text>
<text x="772.2" y="760.8" font-size="10.6" font-weight="bold" fill="#4a4d55" textLength="9.5" lengthAdjust="spacingAndGlyphs">11</text>
<text x="839.2" y="760.8" font-size="10.6" font-weight="bold" fill="#4a4d55" textLength="9.5" lengthAdjust="spacingAndGlyphs">13</text>
<text x="907.2" y="760.8" font-size="10.6" font-weight="bold" fill="#4a4d55" textLength="9.5" lengthAdjust="spacingAndGlyphs">15</text>
<text x="974.2" y="760.8" font-size="10.6" font-weight="bold" fill="#4a4d55" textLength="9.5" lengthAdjust="spacingAndGlyphs">17</text>
<text x="1041.2" y="760.8" font-size="10.6" font-weight="bold" fill="#4a4d55" textLength="9.5" lengthAdjust="spacingAndGlyphs">19</text>
<text x="1108.2" y="760.8" font-size="10.6" font-weight="bold" fill="#4a4d55" textLength="9.5" lengthAdjust="spacingAndGlyphs">21</text>
<text x="12.9" y="33.1" font-size="9.4" fill="#434753" textLength="114" lengthAdjust="spacingAndGlyphs">Bitcoin / Tether · 4h · KuCoin</text>
<text x="130" y="33.1" font-size="9.4" fill="#434753" textLength="4.6" lengthAdjust="spacingAndGlyphs">O</text>
<text x="134.8" y="33.1" font-size="9.4" fill="#882433" textLength="33.2" lengthAdjust="spacingAndGlyphs">68,097.8</text>
<text x="173.6" y="33.1" font-size="9.4" fill="#434753" textLength="5.4" lengthAdjust="spacingAndGlyphs">H</text>
<text x="179.2" y="33.1" font-size="9.4" fill="#882433" textLength="31.9" lengthAdjust="spacingAndGlyphs">68,795.8</text>
<text x="216.7" y="33.1" font-size="9.4" fill="#434753" textLength="3.9" lengthAdjust="spacingAndGlyphs">L</text>
<text x="220.6" y="33.1" font-size="9.4" fill="#882433" textLength="34.1" lengthAdjust="spacingAndGlyphs">67,610.3</text>
<text x="261" y="33.1" font-size="9.4" fill="#434753" textLength="4.7" lengthAdjust="spacingAndGlyphs">C</text>
<text x="265.7" y="33.1" font-size="9.4" fill="#882433" textLength="31.7" lengthAdjust="spacingAndGlyphs">67,899.9</text>
<text x="303.7" y="33.1" font-size="9.4" fill="#882433" textLength="22.2" lengthAdjust="spacingAndGlyphs">−197.8</text>
<text x="328.3" y="33.1" font-size="9.4" fill="#882433" textLength="34" lengthAdjust="spacingAndGlyphs">(−0.29%)</text>
<circle cx="654.1" cy="736" r="7.0" fill="#ffffff" stroke="#8a35b0" stroke-width="1.5"/>
<polyline points="655.9,732.6 652.2,736.6 656.0,735.8 652.2,739.9" fill="none" stroke="#7c2ca2" stroke-width="1.5" stroke-linejoin="bevel"/>
<circle cx="659.1" cy="731.6" r="2.6" fill="#e8e9ec"/>
<circle cx="659.1" cy="731.6" r="2.0" fill="#e0202e"/>
<path d="M8.75,784 H17 V794.75 H13 V788 H8.75 Z" fill="#e8e8e8"/>
<circle cx="20.75" cy="786.4" r="1.9" fill="#e8e8e8"/>
<path d="M25,784 H30 L25.75,794.75 H21.25 Z" fill="#e8e8e8"/>
<text x="35.2" y="794.4" font-size="14" font-weight="bold" fill="#e8e8e8" textLength="85.1" lengthAdjust="spacingAndGlyphs">TradingView</text>
</svg></body></html>
